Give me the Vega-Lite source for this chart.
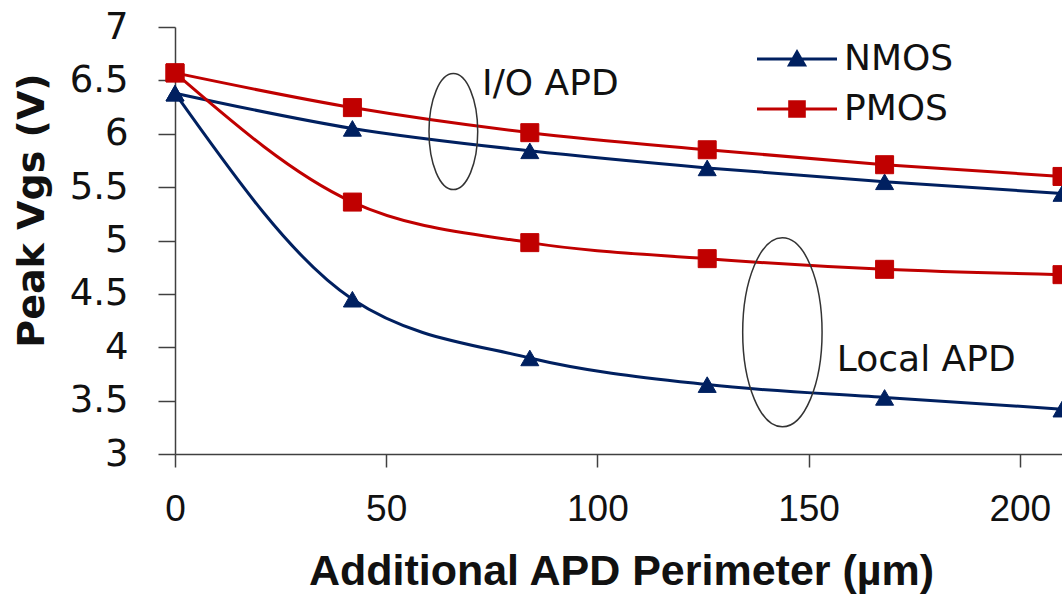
{
  "$schema": "https://vega.github.io/schema/vega-lite/v6.json",
  "width": 887,
  "height": 427,
  "autosize": {"type": "none"},
  "padding": {"left": 175, "top": 27, "right": 0, "bottom": 142},
  "background": "white",
  "config": {
    "view": {"stroke": null},
    "axis": {
      "domainColor": "#404040",
      "domainWidth": 1.5,
      "tickColor": "#404040",
      "tickWidth": 1.5,
      "grid": false,
      "labelColor": "#111111",
      "titleColor": "#111111"
    },
    "legend": {
      "orient": "none",
      "legendX": 604,
      "padding": 0,
      "symbolSize": 400,
      "symbolStrokeWidth": 3,
      "symbolOpacity": 1,
      "labelFont": "DejaVu Sans",
      "labelFontSize": 36,
      "labelColor": "#111111",
      "labelOffset": 29
    }
  },
  "datasets": {
    "curves": [
      {"perimeter": 0, "vgs": 6.38, "device": "NMOS", "apd": "I/O"},
      {"perimeter": 42, "vgs": 6.05, "device": "NMOS", "apd": "I/O"},
      {"perimeter": 84, "vgs": 5.84, "device": "NMOS", "apd": "I/O"},
      {"perimeter": 126, "vgs": 5.68, "device": "NMOS", "apd": "I/O"},
      {"perimeter": 168, "vgs": 5.55, "device": "NMOS", "apd": "I/O"},
      {"perimeter": 210, "vgs": 5.44, "device": "NMOS", "apd": "I/O"},
      {"perimeter": 0, "vgs": 6.57, "device": "PMOS", "apd": "I/O"},
      {"perimeter": 42, "vgs": 6.245, "device": "PMOS", "apd": "I/O"},
      {"perimeter": 84, "vgs": 6.01, "device": "PMOS", "apd": "I/O"},
      {"perimeter": 126, "vgs": 5.85, "device": "PMOS", "apd": "I/O"},
      {"perimeter": 168, "vgs": 5.71, "device": "PMOS", "apd": "I/O"},
      {"perimeter": 210, "vgs": 5.60, "device": "PMOS", "apd": "I/O"},
      {"perimeter": 0, "vgs": 6.57, "device": "PMOS", "apd": "Local"},
      {"perimeter": 42, "vgs": 5.36, "device": "PMOS", "apd": "Local"},
      {"perimeter": 84, "vgs": 4.98, "device": "PMOS", "apd": "Local"},
      {"perimeter": 126, "vgs": 4.83, "device": "PMOS", "apd": "Local"},
      {"perimeter": 168, "vgs": 4.73, "device": "PMOS", "apd": "Local"},
      {"perimeter": 210, "vgs": 4.68, "device": "PMOS", "apd": "Local"},
      {"perimeter": 0, "vgs": 6.38, "device": "NMOS", "apd": "Local"},
      {"perimeter": 42, "vgs": 4.45, "device": "NMOS", "apd": "Local"},
      {"perimeter": 84, "vgs": 3.90, "device": "NMOS", "apd": "Local"},
      {"perimeter": 126, "vgs": 3.65, "device": "NMOS", "apd": "Local"},
      {"perimeter": 168, "vgs": 3.53, "device": "NMOS", "apd": "Local"},
      {"perimeter": 210, "vgs": 3.42, "device": "NMOS", "apd": "Local"}
    ],
    "groups": [
      {"perimeter": 65.9, "vgs": 6.02, "group": "I/O APD"},
      {"perimeter": 143.8, "vgs": 4.14, "group": "Local APD"}
    ],
    "labels": [
      {"perimeter": 72.7, "vgs": 6.36, "text": "I/O APD"},
      {"perimeter": 156.7, "vgs": 3.78, "text": "Local APD"}
    ]
  },
  "encoding": {
    "x": {
      "field": "perimeter",
      "type": "quantitative",
      "scale": {"domain": [0, 210], "nice": false, "zero": false},
      "axis": {
        "title": "Additional APD Perimeter (µm)",
        "values": [0, 50, 100, 150, 200],
        "tickSize": 13,
        "labelFont": "Liberation Sans",
        "labelFontSize": 37,
        "labelBaseline": "alphabetic",
        "labelPadding": 53,
        "labelFlush": false,
        "labelOverlap": false,
        "titleFont": "Liberation Sans",
        "titleFontWeight": "bold",
        "titleFontSize": 43,
        "titleBaseline": "alphabetic",
        "titleY": 130,
        "titleX": 446
      }
    },
    "y": {
      "field": "vgs",
      "type": "quantitative",
      "scale": {"domain": [3, 7], "nice": false, "zero": false},
      "axis": {
        "title": "Peak Vgs (V)",
        "values": [3, 3.5, 4, 4.5, 5, 5.5, 6, 6.5, 7],
        "format": "~g",
        "tickSize": 17,
        "labelFont": "DejaVu Sans",
        "labelFontSize": 37,
        "labelPadding": 30,
        "labelFlush": false,
        "labelOverlap": false,
        "titleFont": "DejaVu Sans",
        "titleFontWeight": "bold",
        "titleFontSize": 38,
        "titleAngle": -90,
        "titleAlign": "center",
        "titleBaseline": "alphabetic",
        "titleX": -132,
        "titleY": 183
      }
    }
  },
  "layer": [
    {
      "mark": {"type": "rule", "stroke": "#404040", "strokeWidth": 1.5},
      "encoding": {"y": {"datum": 7}, "x": null}
    },
    {
      "data": {"name": "curves"},
      "mark": {"type": "line", "interpolate": "monotone", "strokeWidth": 3},
      "encoding": {
        "color": {
          "field": "device",
          "type": "nominal",
          "scale": {"domain": ["NMOS", "PMOS"], "range": ["#002060", "#C00000"]},
          "legend": {
            "title": null,
            "values": ["NMOS"],
            "legendY": 14,
            "symbolType": "M-4,0H4M-0.75,0.6L0,-0.7L0.75,0.6Z",
            "symbolFillColor": "#002060"
          }
        },
        "detail": {"field": "apd"}
      }
    },
    {
      "data": {"name": "curves"},
      "transform": [{"filter": "datum.device === 'NMOS'"}],
      "mark": {"type": "point", "filled": true, "opacity": 1, "size": 324, "shape": "triangle-up", "fill": "#002060", "stroke": "#002060", "strokeWidth": 1}
    },
    {
      "data": {"name": "curves"},
      "transform": [{"filter": "datum.device === 'PMOS'"}],
      "mark": {"type": "point", "filled": true, "opacity": 1, "size": 324, "shape": "square", "fill": "#C00000", "strokeWidth": 1},
      "encoding": {
        "stroke": {
          "field": "device",
          "type": "nominal",
          "scale": {"domain": ["PMOS", "NMOS"], "range": ["#C00000", "#002060"]},
          "legend": {
            "title": null,
            "values": ["PMOS"],
            "legendY": 64,
            "symbolType": "M-4,0H4M-0.73,-0.73H0.73V0.73H-0.73Z",
            "symbolFillColor": "#C00000"
          }
        }
      }
    },
    {
      "data": {"name": "groups"},
      "mark": {
        "type": "point",
        "filled": false,
        "shape": "M0,-1A0.42,1 0 1,1 0,1A0.42,1 0 1,1 0,-1Z",
        "stroke": "#333333",
        "strokeWidth": 1.5,
        "opacity": 1
      },
      "encoding": {
        "size": {
          "field": "group",
          "type": "nominal",
          "scale": {"domain": ["I/O APD", "Local APD"], "range": [13456, 35721]},
          "legend": null
        }
      }
    },
    {
      "data": {"name": "labels"},
      "mark": {
        "type": "text",
        "align": "left",
        "baseline": "alphabetic",
        "font": "DejaVu Sans",
        "fontSize": 36,
        "color": "#111111"
      },
      "encoding": {"text": {"field": "text"}}
    }
  ]
}
